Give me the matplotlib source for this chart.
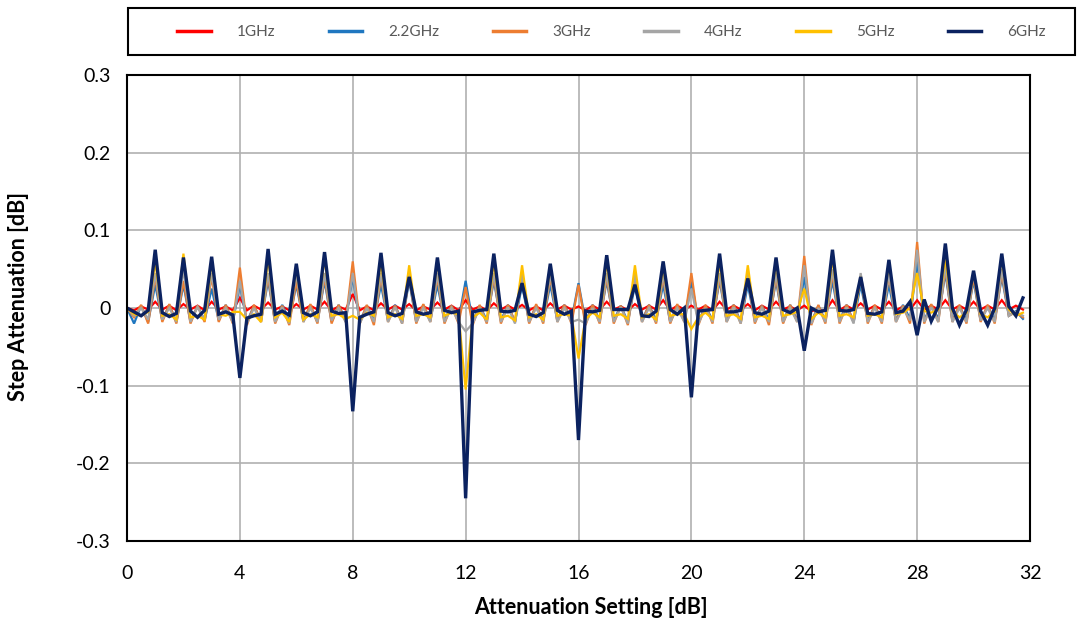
import numpy as np
import matplotlib
matplotlib.use("Agg")
import matplotlib.pyplot as plt
from matplotlib.patches import Rectangle

plt.rcParams['font.family'] = ['Lato', 'DejaVu Sans']

# attenuation setting, 0.25 dB steps
setting = np.arange(0, 32, 0.25)

labels = ['1GHz', '2.2GHz', '3GHz', '4GHz', '5GHz', '6GHz']
colors = ['#ff0000', '#1f77c0', '#ed7d31', '#a5a5a5', '#ffc000', '#0b2260']

# step attenuation [dB], 4 points per dB, 16 values per line
att_1g = [
    0.000, -0.003, 0.002, -0.002, 0.008, -0.002, 0.003, -0.003, 0.005, -0.002, 0.003, -0.003, 0.008, -0.002, 0.002, -0.003,
    0.013, -0.003, 0.003, -0.002, 0.007, -0.002, 0.002, -0.003, 0.005, -0.002, 0.003, -0.002, 0.008, -0.003, 0.002, -0.002,
    0.018, -0.003, 0.002, -0.003, 0.006, -0.002, 0.003, -0.002, 0.005, -0.003, 0.002, -0.002, 0.007, -0.002, 0.003, -0.003,
    0.010, -0.002, 0.002, -0.003, 0.006, -0.002, 0.003, -0.002, 0.004, -0.003, 0.002, -0.003, 0.006, -0.002, 0.003, -0.002,
    0.002, -0.003, 0.003, -0.002, 0.008, -0.002, 0.002, -0.003, 0.005, -0.002, 0.003, -0.002, 0.010, -0.003, 0.003, -0.002,
    0.003, -0.002, 0.003, -0.003, 0.008, -0.002, 0.003, -0.002, 0.005, -0.003, 0.003, -0.002, 0.008, -0.002, 0.002, -0.003,
    0.003, -0.004, -0.002, -0.004, 0.010, -0.003, 0.003, -0.002, 0.006, -0.002, 0.003, -0.002, 0.008, -0.003, 0.002, -0.002,
    0.010, -0.002, 0.003, -0.002, 0.010, -0.002, 0.003, -0.002, 0.008, -0.002, 0.003, -0.002, 0.010, -0.002, 0.003, -0.002,
]
att_2g2 = [
    0.000, -0.020, 0.003, -0.018, 0.030, -0.016, 0.004, -0.018, 0.030, -0.018, 0.003, -0.016, 0.025, -0.016, 0.004, -0.018,
    0.030, -0.018, 0.003, -0.016, 0.035, -0.018, 0.004, -0.016, 0.030, -0.016, 0.003, -0.018, 0.035, -0.018, 0.004, -0.016,
    0.040, -0.018, 0.003, -0.016, 0.030, -0.016, 0.004, -0.018, 0.035, -0.018, 0.004, -0.016, 0.030, -0.016, 0.003, -0.016,
    0.035, -0.018, 0.003, -0.016, 0.035, -0.016, 0.004, -0.018, 0.030, -0.018, 0.003, -0.016, 0.030, -0.016, 0.004, -0.016,
    0.032, -0.018, 0.004, -0.016, 0.035, -0.016, 0.003, -0.018, 0.030, -0.016, 0.004, -0.016, 0.030, -0.018, 0.003, -0.016,
    0.035, -0.018, 0.003, -0.016, 0.035, -0.016, 0.004, -0.018, 0.030, -0.016, 0.003, -0.016, 0.035, -0.018, 0.004, -0.016,
    0.040, -0.018, 0.003, -0.016, 0.035, -0.016, 0.004, -0.018, 0.030, -0.016, 0.003, -0.016, 0.030, -0.016, 0.004, -0.014,
    0.060, -0.016, 0.004, -0.014, 0.045, -0.016, 0.003, -0.016, 0.035, -0.016, 0.003, -0.016, 0.040, -0.010, -0.004, -0.014,
]
att_3g = [
    0.000, -0.012, 0.004, -0.020, 0.040, -0.018, 0.005, -0.020, 0.035, -0.020, 0.003, -0.018, 0.040, -0.018, 0.004, -0.020,
    0.052, -0.022, 0.004, -0.018, 0.040, -0.020, 0.003, -0.022, 0.035, -0.018, 0.005, -0.020, 0.040, -0.020, 0.004, -0.018,
    0.060, -0.020, 0.004, -0.022, 0.040, -0.018, 0.003, -0.020, 0.040, -0.020, 0.005, -0.018, 0.040, -0.020, 0.003, -0.020,
    0.027, -0.022, 0.004, -0.020, 0.040, -0.020, 0.004, -0.018, 0.040, -0.020, 0.005, -0.020, 0.040, -0.018, 0.004, -0.020,
    0.030, -0.022, 0.004, -0.020, 0.040, -0.020, 0.003, -0.022, 0.040, -0.018, 0.004, -0.020, 0.040, -0.020, 0.005, -0.018,
    0.045, -0.022, 0.004, -0.020, 0.040, -0.018, 0.004, -0.020, 0.040, -0.020, 0.003, -0.022, 0.040, -0.020, 0.004, -0.018,
    0.067, -0.022, 0.004, -0.020, 0.045, -0.020, 0.004, -0.018, 0.040, -0.020, 0.004, -0.020, 0.042, -0.018, 0.003, -0.020,
    0.085, -0.020, 0.005, -0.018, 0.050, -0.018, 0.004, -0.020, 0.040, -0.018, 0.004, -0.020, 0.045, -0.010, -0.005, -0.012,
]
att_4g = [
    0.000, -0.010, 0.000, -0.015, 0.045, -0.015, 0.000, -0.018, 0.050, -0.018, 0.001, -0.015, 0.045, -0.015, 0.000, -0.018,
    0.035, -0.020, 0.000, -0.018, 0.045, -0.018, 0.001, -0.020, 0.045, -0.018, 0.000, -0.018, 0.045, -0.016, 0.000, -0.018,
    0.045, -0.020, 0.000, -0.018, 0.045, -0.018, 0.001, -0.020, 0.045, -0.018, 0.000, -0.018, 0.045, -0.018, 0.000, -0.018,
    -0.030, -0.020, 0.000, -0.018, 0.045, -0.018, 0.001, -0.020, 0.045, -0.018, 0.000, -0.018, 0.045, -0.018, 0.000, -0.018,
    -0.015, -0.020, 0.000, -0.018, 0.045, -0.018, 0.001, -0.020, 0.045, -0.018, 0.000, -0.018, 0.045, -0.018, 0.000, -0.018,
    0.025, -0.020, 0.000, -0.018, 0.045, -0.018, 0.001, -0.020, 0.045, -0.018, 0.000, -0.018, 0.045, -0.018, 0.000, -0.018,
    0.055, -0.020, 0.000, -0.018, 0.050, -0.018, 0.001, -0.020, 0.045, -0.018, 0.000, -0.018, 0.045, -0.018, 0.000, -0.016,
    0.075, -0.018, 0.001, -0.018, 0.055, -0.018, 0.000, -0.018, 0.045, -0.016, 0.000, -0.018, 0.050, -0.010, -0.005, -0.010,
]
att_5g = [
    0.000, -0.008, -0.010, -0.005, 0.060, -0.010, -0.008, -0.015, 0.070, -0.012, -0.010, -0.015, 0.060, -0.008, -0.010, -0.005,
    -0.005, -0.015, -0.008, -0.018, 0.065, -0.012, -0.006, -0.018, 0.055, -0.015, -0.008, -0.012, 0.065, -0.010, -0.008, -0.014,
    -0.010, -0.015, -0.006, -0.010, 0.060, -0.012, -0.008, -0.014, 0.055, -0.010, -0.008, -0.012, 0.060, -0.010, -0.006, -0.008,
    -0.105, -0.012, -0.006, -0.015, 0.060, -0.012, -0.010, -0.016, 0.055, -0.012, -0.008, -0.015, 0.055, -0.010, -0.008, -0.010,
    -0.065, -0.014, -0.006, -0.012, 0.060, -0.010, -0.008, -0.014, 0.055, -0.012, -0.008, -0.015, 0.055, -0.010, -0.008, -0.008,
    -0.027, -0.012, -0.006, -0.014, 0.060, -0.010, -0.008, -0.014, 0.055, -0.012, -0.010, -0.014, 0.060, -0.010, -0.008, -0.005,
    0.025, -0.014, -0.006, -0.012, 0.065, -0.010, -0.008, -0.012, 0.040, -0.010, -0.008, -0.012, 0.060, -0.008, -0.006, 0.000,
    0.045, -0.004, -0.006, -0.002, 0.065, -0.004, -0.012, -0.006, 0.045, -0.008, -0.012, -0.004, 0.065, -0.002, -0.010, -0.006,
]
att_6g = [
    0.000, -0.005, -0.010, -0.003, 0.075, -0.006, -0.011, -0.007, 0.065, -0.004, -0.012, -0.003, 0.066, -0.008, -0.005, -0.009,
    -0.090, -0.013, -0.010, -0.008, 0.076, -0.008, -0.004, -0.009, 0.057, -0.006, -0.010, -0.005, 0.072, -0.004, -0.007, -0.006,
    -0.133, -0.012, -0.008, -0.005, 0.071, -0.006, -0.010, -0.007, 0.040, -0.005, -0.008, -0.006, 0.065, -0.003, -0.006, -0.004,
    -0.245, -0.005, -0.003, -0.002, 0.070, -0.004, -0.005, -0.003, 0.032, -0.008, -0.011, -0.006, 0.057, -0.003, -0.008, -0.004,
    -0.170, -0.004, -0.005, -0.003, 0.068, -0.002, -0.002, -0.002, 0.030, -0.010, -0.011, -0.004, 0.060, -0.002, -0.008, 0.000,
    -0.115, -0.004, -0.003, -0.002, 0.070, -0.005, -0.005, -0.003, 0.038, -0.006, -0.008, -0.004, 0.065, -0.002, -0.006, 0.000,
    -0.055, 0.000, -0.005, -0.003, 0.075, -0.003, -0.004, -0.002, 0.040, -0.007, -0.008, -0.005, 0.062, -0.006, -0.004, 0.008,
    -0.035, 0.011, -0.017, 0.002, 0.083, 0.000, -0.022, -0.002, 0.048, -0.004, -0.022, 0.000, 0.070, 0.002, -0.010, 0.013,
]

series = [att_1g, att_2g2, att_3g, att_4g, att_5g, att_6g]
widths = [1.6, 1.6, 1.6, 1.6, 1.6, 2.4]

W, H = 1083, 621
fig = plt.figure(figsize=(W / 100, H / 100), dpi=100)
ax = fig.add_axes([127 / W, 1 - 541 / H, 903 / W, 466 / H])

handles = []
for y, lab, c, lw in zip(series, labels, colors, widths):
    h, = ax.plot(setting, y, color=c, lw=lw, label=lab, solid_joinstyle='miter')
    handles.append(h)

ax.set_xlim(0, 32)
ax.set_ylim(-0.3, 0.3)
ax.set_xticks(np.arange(0, 33, 4))
ax.set_yticks([-0.3, -0.2, -0.1, 0, 0.1, 0.2, 0.3])
ax.set_yticklabels(['-0.3', '-0.2', '-0.1', '0', '0.1', '0.2', '0.3'])
ax.tick_params(length=0, labelsize=14)
ax.tick_params(axis='x', pad=17)
ax.tick_params(axis='y', pad=12)
ax.grid(True, color='#b0b0b0', lw=1.2)
ax.set_axisbelow(True)
for s in ax.spines.values():
    s.set_linewidth(1.5)
    s.set_color('black')

ax.set_xlabel('Attenuation Setting [dB]', fontsize=15.5, fontweight='bold')
ax.set_ylabel('Step Attenuation [dB]', fontsize=15.5, fontweight='bold')
ax.xaxis.set_label_coords((591 - 127) / 903, -(597 - 541) / 466)
ax.yaxis.set_label_coords(-(127 - 29) / 903, (541 - 297) / 466)

# legend box across the top
fig.patches.append(Rectangle((128 / W, 1 - 55 / H), 947 / W, 47 / H,
                             transform=fig.transFigure, fill=False,
                             edgecolor='black', lw=1.5))
leg = fig.legend(handles=handles, loc='center', ncol=6,
                 bbox_to_anchor=((182 + 1041) / 2 / W, 1 - 32 / H),
                 frameon=False, fontsize=11, handlelength=2.2,
                 handletextpad=1.7, columnspacing=3.5, borderaxespad=0,
                 labelcolor='#595959')
for line in leg.get_lines():
    line.set_linewidth(2.5)

fig.savefig('out.png', dpi=100)
